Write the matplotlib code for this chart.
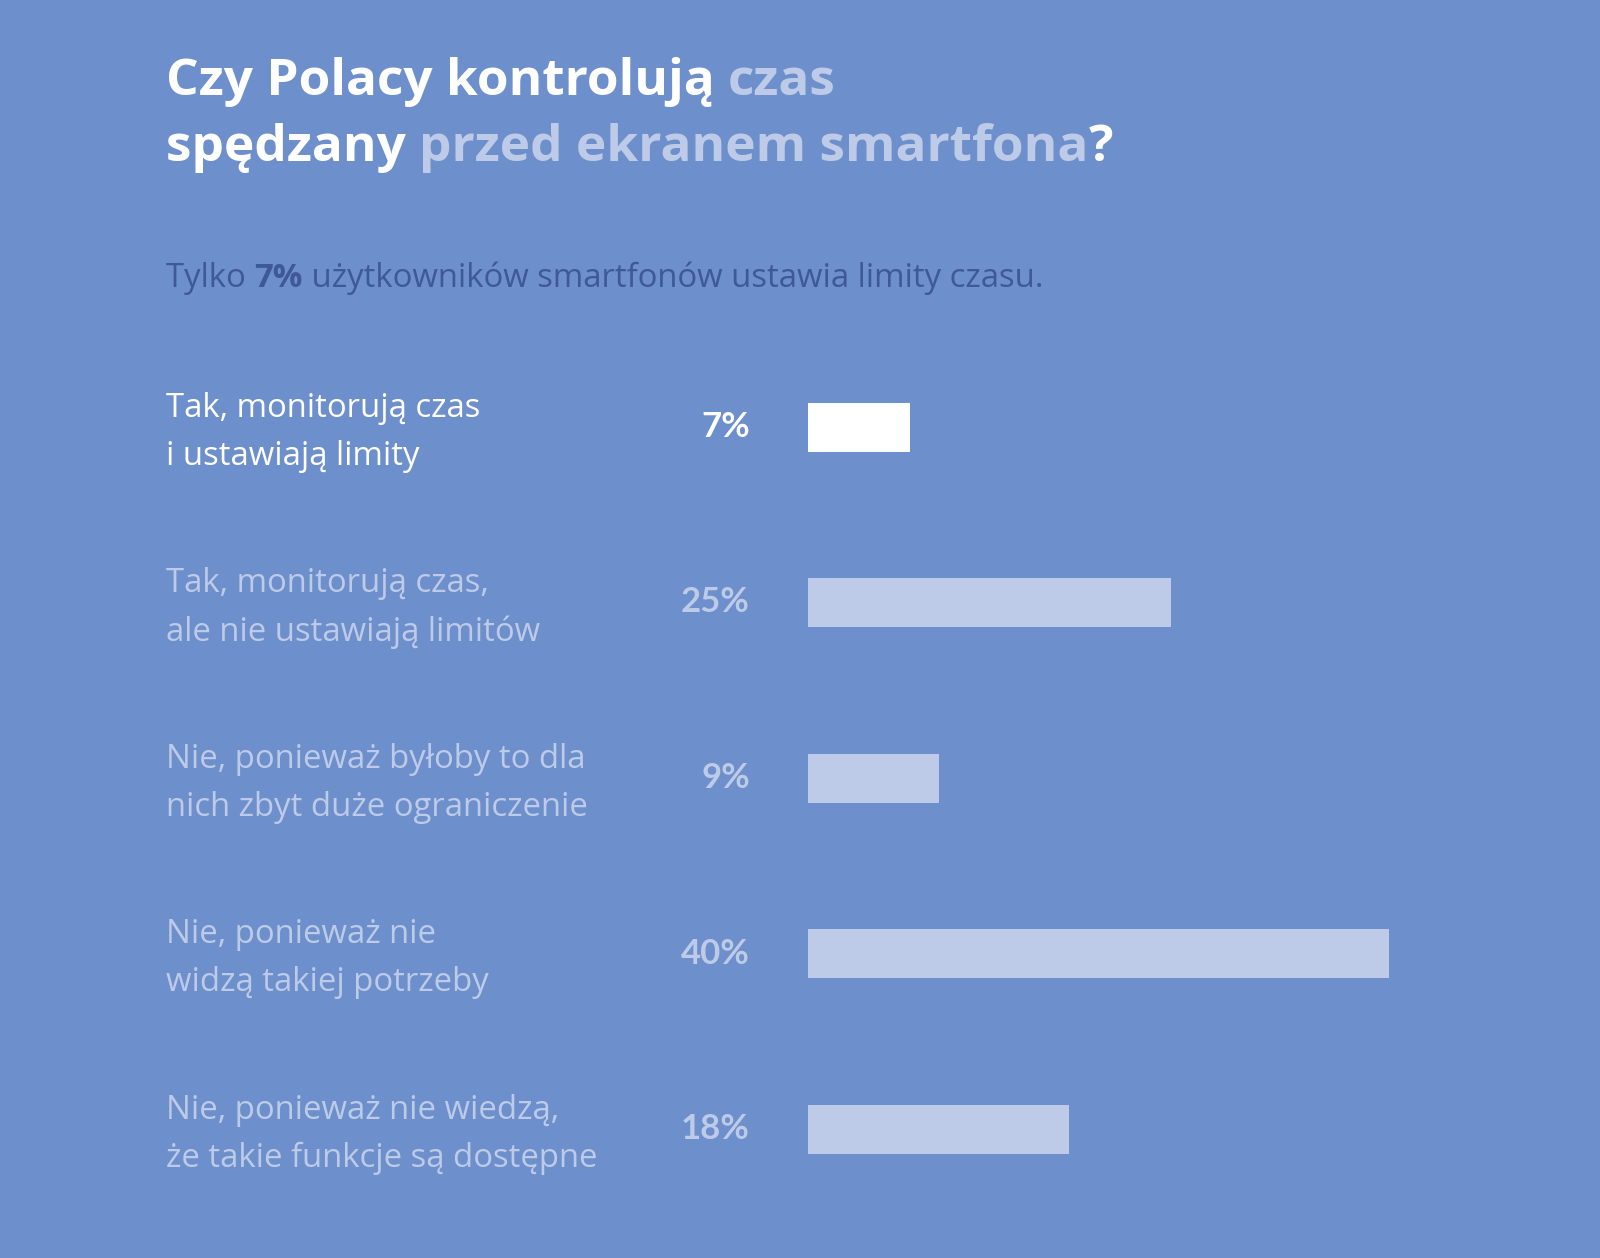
import matplotlib
matplotlib.use('Agg')
import matplotlib.pyplot as plt
from matplotlib.transforms import blended_transform_factory

plt.rcParams['font.family'] = ['Open Sans', 'DejaVu Sans']

# dane
categories = [
    'Tak, monitorują czas\ni ustawiają limity',
    'Tak, monitorują czas,\nale nie ustawiają limitów',
    'Nie, ponieważ byłoby to dla\nnich zbyt duże ograniczenie',
    'Nie, ponieważ nie\nwidzą takiej potrzeby',
    'Nie, ponieważ nie wiedzą,\nże takie funkcje są dostępne',
]
values = [7, 25, 9, 40, 18]
highlight = [True, False, False, False, False]

title_line1 = [('Czy Polacy kontrolują ', 'white'), ('czas', 'light')]
title_line2 = [('spędzany ', 'white'), ('przed ekranem smartfona', 'light'), ('?', 'white')]
subtitle = [('Tylko ', 'normal'), ('7%', 'bold'), (' użytkowników smartfonów ustawia limity czasu.', 'normal')]

BG = '#6d8fcb'
LIGHT = '#bdcbe8'
WHITE = '#ffffff'
DARK = '#3e5898'

W, H = 1600, 1258
fig = plt.figure(figsize=(W / 100, H / 100), dpi=100, facecolor=BG)
renderer = fig.canvas.get_renderer()


def draw_runs(x_px, y_px, runs, size, colors, weights):
    # tekst z kilku kawałków w jednej linii
    x = x_px
    for txt, key in runs:
        t = fig.text(x / W, 1 - y_px / H, txt, fontsize=size, color=colors[key],
                     fontweight=weights[key], va='baseline', ha='left')
        bb = t.get_window_extent(renderer)
        x += bb.width


tc = {'white': WHITE, 'light': LIGHT}
tw = {'white': 'bold', 'light': 'bold'}
draw_runs(166, 95, title_line1, 37, tc, tw)
draw_runs(166, 161, title_line2, 37, tc, tw)

sc = {'normal': DARK, 'bold': DARK}
sw = {'normal': 'normal', 'bold': 'bold'}
draw_runs(166, 287, subtitle, 23.7, sc, sw)

# wykres słupkowy
px_per_pct = (1389 - 808) / 40
x0 = 808
ax_w = W - x0
centers_top, step = 427, 175.5
top = centers_top - step / 2
bottom = top + step * len(values)
ax = fig.add_axes([x0 / W, 1 - bottom / H, ax_w / W, (bottom - top) / H])
ax.set_facecolor('none')
ax.set_xlim(0, ax_w / px_per_pct)
ax.set_ylim(len(values) - 0.5, -0.5)
ax.axis('off')

ypos = list(range(len(values)))
bar_colors = [WHITE if h else LIGHT for h in highlight]
ax.barh(ypos, values, height=49 / step, color=bar_colors, left=0)

tr = blended_transform_factory(fig.transFigure, ax.transData)
for i, (lab, v, h) in enumerate(zip(categories, values, highlight)):
    col = WHITE if h else LIGHT
    ax.text(166 / W, i + 0.03, lab, transform=tr, ha='left', va='center',
            fontsize=23.7, color=col, linespacing=1.6)
    ax.text(750 / W, i, f'{v}%', transform=tr, ha='right', va='center',
            fontsize=25, fontweight='bold', color=col, family=['Lato', 'DejaVu Sans'])

fig.savefig('out.png', dpi=100, facecolor=BG)
